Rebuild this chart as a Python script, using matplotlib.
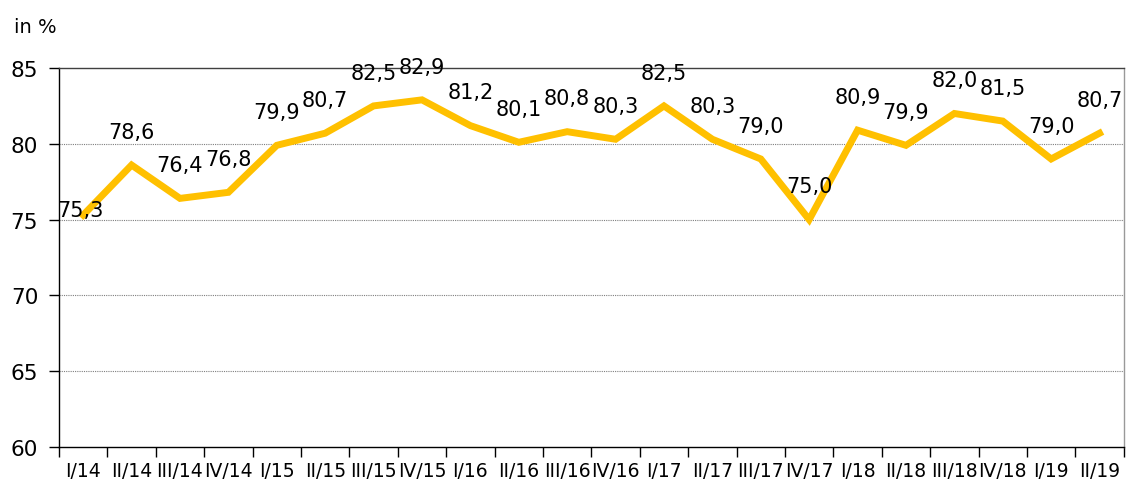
import matplotlib.pyplot as plt

quarters = ["I/14", "II/14", "III/14", "IV/14", "I/15", "II/15", "III/15", "IV/15",
            "I/16", "II/16", "III/16", "IV/16", "I/17", "II/17", "III/17", "IV/17",
            "I/18", "II/18", "III/18", "IV/18", "I/19", "II/19"]
values = [75.3, 78.6, 76.4, 76.8, 79.9, 80.7, 82.5, 82.9,
          81.2, 80.1, 80.8, 80.3, 82.5, 80.3, 79.0, 75.0,
          80.9, 79.9, 82.0, 81.5, 79.0, 80.7]
y_ticks = [60, 65, 70, 75, 80, 85]

LINE_COLOR = "#FFC000"

fig = plt.figure(figsize=(11.26, 4.85), dpi=100)
ax = fig.add_axes([0.0524, 0.0763, 0.9456, 0.7814])

x = list(range(len(values)))
ax.plot(x, values, color=LINE_COLOR, linewidth=5, solid_joinstyle="miter", zorder=3)

# data labels above each point (first one sits next to the axis)
for i, v in enumerate(values):
    dx, dy = (-2, 4) if i == 0 else (0, 24)
    ax.annotate(f"{v:.1f}".replace(".", ","), (i, v), xytext=(dx, dy),
                textcoords="offset points", ha="center", va="center",
                fontsize=15, color="black", zorder=4)

ax.set_xlim(-0.5, len(values) - 0.5)
ax.set_ylim(60, 85)

# category ticks between points, labels under points
ax.set_xticks([i - 0.5 for i in range(len(values) + 1)])
ax.set_xticklabels([])
ax.set_xticks(x, minor=True)
ax.set_xticklabels(quarters, minor=True, fontsize=13.5)
ax.tick_params(axis="x", which="major", length=7, width=1, color="black", direction="out")
ax.tick_params(axis="x", which="minor", length=0, pad=10)

ax.set_yticks(y_ticks)
ax.set_yticklabels([str(t) for t in y_ticks], fontsize=15.5)
ax.tick_params(axis="y", length=7, width=1, color="black", pad=8)

for t in y_ticks[1:-1]:
    ax.axhline(t, color="#7f7f7f", linewidth=0.8, linestyle=(0, (1, 1)), zorder=1)

ax.spines["left"].set_color("black")
ax.spines["bottom"].set_color("black")
ax.spines["top"].set_color("#404040")
ax.spines["right"].set_color("#999999")
for s in ax.spines.values():
    s.set_linewidth(1)

fig.text(0.031, 0.944, "in %", fontsize=14, ha="center", va="center")

fig.savefig("out.png", dpi=100)
